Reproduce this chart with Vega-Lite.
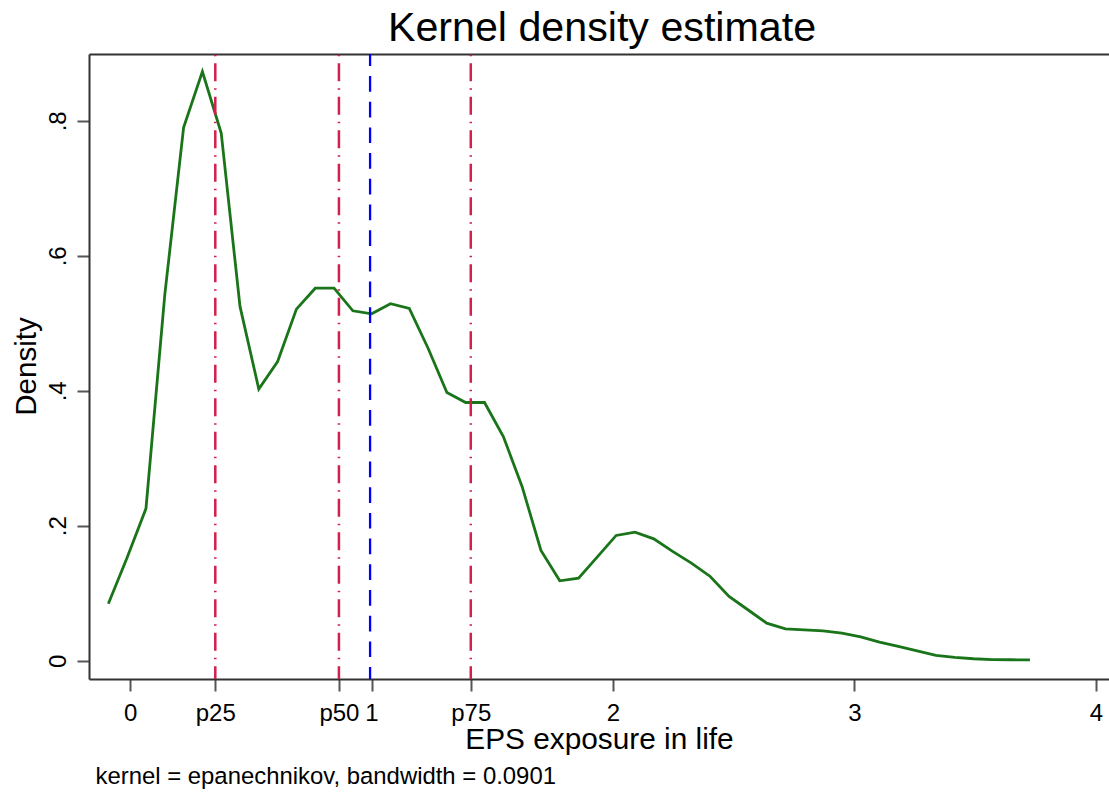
{
  "$schema": "https://vega.github.io/schema/vega-lite/v6.json",
  "width": 1020,
  "height": 625,
  "autosize": {"type": "none"},
  "padding": {"left": 89, "top": 54, "right": 0, "bottom": 115},
  "background": "white",
  "title": {
    "text": "Kernel density estimate",
    "font": "Liberation Sans",
    "fontSize": 41.2,
    "fontWeight": "normal",
    "color": "black",
    "anchor": "middle",
    "baseline": "alphabetic",
    "offset": 12,
    "dy": 41,
    "dx": 3
  },
  "config": {
    "view": {"stroke": null},
    "axis": {
      "grid": false,
      "labelFont": "Liberation Sans",
      "titleFont": "Liberation Sans",
      "labelColor": "black",
      "titleColor": "black",
      "domainColor": "#333333",
      "domainWidth": 2,
      "tickColor": "#555555",
      "tickWidth": 2,
      "tickSize": 12,
      "titleFontWeight": "normal"
    }
  },
  "datasets": {
    "density": [
      {"x": -0.0899, "density": 0.0844},
      {"x": -0.0120, "density": 0.153},
      {"x": 0.0659, "density": 0.2255},
      {"x": 0.1438, "density": 0.542},
      {"x": 0.2217, "density": 0.790},
      {"x": 0.2996, "density": 0.873},
      {"x": 0.3775, "density": 0.782},
      {"x": 0.4553, "density": 0.525},
      {"x": 0.5332, "density": 0.4025},
      {"x": 0.6111, "density": 0.4434},
      {"x": 0.6890, "density": 0.521},
      {"x": 0.7669, "density": 0.552},
      {"x": 0.8448, "density": 0.552},
      {"x": 0.9227, "density": 0.5185},
      {"x": 1.0006, "density": 0.514},
      {"x": 1.0785, "density": 0.529},
      {"x": 1.1563, "density": 0.522},
      {"x": 1.2342, "density": 0.463},
      {"x": 1.3121, "density": 0.3975},
      {"x": 1.3900, "density": 0.3827},
      {"x": 1.4679, "density": 0.3827},
      {"x": 1.5458, "density": 0.3323},
      {"x": 1.6237, "density": 0.258},
      {"x": 1.7016, "density": 0.1634},
      {"x": 1.7795, "density": 0.1185},
      {"x": 1.8574, "density": 0.1225},
      {"x": 1.9352, "density": 0.154},
      {"x": 2.0131, "density": 0.1857},
      {"x": 2.0910, "density": 0.1906},
      {"x": 2.1689, "density": 0.1807},
      {"x": 2.2468, "density": 0.162},
      {"x": 2.3247, "density": 0.1447},
      {"x": 2.4026, "density": 0.1249},
      {"x": 2.4805, "density": 0.0953},
      {"x": 2.5584, "density": 0.0756},
      {"x": 2.6363, "density": 0.0558},
      {"x": 2.7141, "density": 0.0474},
      {"x": 2.7920, "density": 0.0459},
      {"x": 2.8699, "density": 0.0444},
      {"x": 2.9478, "density": 0.041},
      {"x": 3.0257, "density": 0.0355},
      {"x": 3.1036, "density": 0.0277},
      {"x": 3.1815, "density": 0.0212},
      {"x": 3.2594, "density": 0.0148},
      {"x": 3.3373, "density": 0.0079},
      {"x": 3.4152, "density": 0.0049},
      {"x": 3.4930, "density": 0.003},
      {"x": 3.5709, "density": 0.0018},
      {"x": 3.6488, "density": 0.0015},
      {"x": 3.7267, "density": 0.0012}
    ],
    "pct": [
      {"x": 0.353, "stat": "p25"},
      {"x": 0.865, "stat": "p50"},
      {"x": 1.411, "stat": "p75"}
    ],
    "mean": [
      {"x": 0.994, "stat": "mean"}
    ]
  },
  "layer": [
    {
      "data": {"name": "density"},
      "mark": {"type": "line", "color": "#1A751A", "strokeWidth": 2.8},
      "encoding": {
        "x": {
          "field": "x",
          "type": "quantitative",
          "scale": {"domain": [-0.17, 4.054], "nice": false, "zero": false},
          "axis": {
            "orient": "bottom",
            "values": [0, 0.353, 0.865, 1, 1.411, 2, 3, 4],
            "labelExpr": "abs(datum.value - 0.353) < 0.001 ? 'p25' : abs(datum.value - 0.865) < 0.001 ? 'p50' : abs(datum.value - 1.411) < 0.001 ? 'p75' : format(datum.value, 'd')",
            "labelFontSize": 24,
            "labelBaseline": "alphabetic",
            "labelPadding": 29,
            "labelOverlap": false,
            "labelFlush": false,
            "title": "EPS exposure in life",
            "titleFontSize": 29.8,
            "titleBaseline": "alphabetic",
            "titleY": 69
          }
        },
        "y": {
          "field": "density",
          "type": "quantitative",
          "scale": {"domain": [-0.027, 0.899], "nice": false, "zero": false},
          "axis": {
            "values": [0, 0.2, 0.4, 0.6, 0.8],
            "labelExpr": "datum.value == 0 ? '0' : replace(format(datum.value, '.1f'), '0.', '.')",
            "labelFontSize": 24,
            "labelAngle": -90,
            "labelAlign": "center",
            "labelBaseline": "alphabetic",
            "labelPadding": 12,
            "title": "Density",
            "titleFontSize": 29.5,
            "titleAngle": -90,
            "titleAlign": "center",
            "titleBaseline": "alphabetic",
            "titleX": -54,
            "titleY": 312
          }
        }
      }
    },
    {
      "data": {"name": "pct"},
      "mark": {"type": "rule", "color": "#D21F4E", "strokeWidth": 2.5, "strokeDash": [18, 7, 1.5, 7], "strokeDashOffset": 24.2},
      "encoding": {
        "x": {
          "field": "x",
          "type": "quantitative",
          "axis": {"orient": "top", "domain": true, "ticks": false, "labels": false, "title": null, "grid": false}
        }
      }
    },
    {
      "data": {"name": "mean"},
      "mark": {"type": "rule", "color": "#0000FF", "strokeWidth": 2.3, "strokeDash": [15.7, 10], "strokeDashOffset": 3.7},
      "encoding": {
        "x": {
          "field": "x",
          "type": "quantitative",
          "axis": {
            "orient": "bottom",
            "domain": false,
            "ticks": false,
            "labels": false,
            "grid": false,
            "title": "kernel = epanechnikov, bandwidth = 0.0901",
            "titleFontSize": 23.9,
            "titleAlign": "left",
            "titleBaseline": "alphabetic",
            "titleX": 6,
            "titleY": 104
          }
        }
      }
    }
  ],
  "resolve": {"axis": {"x": "independent"}}
}
